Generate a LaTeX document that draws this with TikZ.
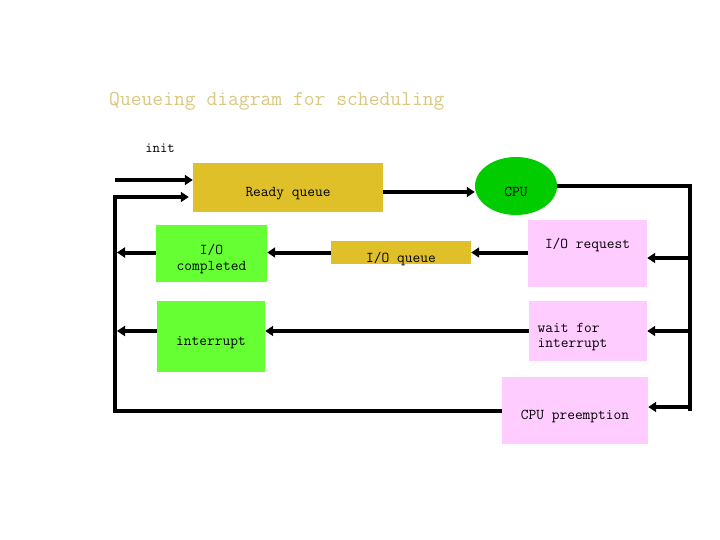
\documentclass[tikz,border=0pt]{standalone}
\usepackage{fontspec}
\usetikzlibrary{arrows.meta,shapes.geometric}
\definecolor{gold}{RGB}{224,192,40}
\definecolor{lgreen}{RGB}{102,255,51}
\definecolor{cpugreen}{RGB}{0,204,0}
\definecolor{pinkbox}{RGB}{255,204,255}
\definecolor{titlecol}{RGB}{218,200,130}
\tikzset{
  box/.style={draw=none,inner sep=0pt,font=\ttfamily\fontsize{15}{15.5}\selectfont,align=center},
  conn/.style={line width=4pt},
  arr/.style={line width=4pt,-{Triangle[length=8pt,width=10pt]}},
}
\begin{document}
\begin{tikzpicture}[x=1pt,y=-1pt]
\useasboundingbox (0,0) rectangle (720,540);
\fill[white] (0,0) rectangle (720,540);
% title and init
\node[font=\ttfamily\fontsize{21}{22}\selectfont,text=titlecol,anchor=west,inner sep=0pt] (title) at (109,101.5) {Queueing diagram for scheduling};
\node[font=\ttfamily\fontsize{14.3}{15}\selectfont,inner sep=0pt] (init) at (160,148) {init};
% boxes
\node[box,fill=gold,minimum width=190pt,minimum height=49pt,label={[box,yshift=-6pt]center:Ready queue}] (rq) at (288,187.5) {};
\node[box,ellipse,fill=cpugreen,minimum width=82pt,minimum height=58pt,label={[box,yshift=-5.5pt]center:CPU}] (cpu) at (516,186) {};
\node[box,fill=pinkbox,minimum width=119pt,minimum height=67pt,label={[box,yshift=9pt]center:I/O request}] (ioreq) at (587.5,253.5) {};
\node[box,fill=gold,minimum width=140pt,minimum height=23pt,label={[box,yshift=-6.5pt]center:I/O queue}] (ioq) at (401,252.5) {};
\node[box,fill=lgreen,minimum width=111pt,minimum height=57pt,label={[box,yshift=-5.5pt]center:I/O\\completed}] (iocomp) at (211.5,253.5) {};
\node[box,fill=lgreen,minimum width=108pt,minimum height=71pt,label={[box,yshift=-6pt]center:interrupt}] (intr) at (211,336.5) {};
\node[box,fill=pinkbox,minimum width=118pt,minimum height=60pt] (wait) at (588,331) {};
\node[box,align=left] (waittxt) at (572.5,337) {wait for\\interrupt};
\node[box,fill=pinkbox,minimum width=146pt,minimum height=67pt,label={[box,yshift=-6pt]center:CPU preemption}] (cpupre) at (575,410.5) {};
% bus coordinates
\coordinate (initstart) at (115,180);
\coordinate (ltop) at (115,197);
\coordinate (lbot) at (115,410.5);
\coordinate (rtop) at (690,186);
\coordinate (rbot) at (690,410.5);
\coordinate (rqout) at ([yshift=-4.5pt]rq.east);
\coordinate (ioreqin) at ([yshift=-4.5pt]ioreq.east);
\coordinate (cpuprein) at ([yshift=3.5pt]cpupre.east);
% connectors
\draw[arr] (initstart) -- (rq.west |- initstart);
\draw[arr] (cpupre.west) -- (lbot) -- (ltop) -- ([xshift=-4pt]rq.west |- ltop);
\draw[arr] (rqout) -- (cpu.west |- rqout);
\draw[conn,line join=miter] (cpu.east |- rtop) -- (rtop) -- (rbot);
\draw[arr] (ioreqin -| rtop) -- (ioreqin);
\draw[arr] (wait.east -| rtop) -- (wait.east);
\draw[arr] (cpuprein -| rtop) -- (cpuprein);
\draw[arr] (ioreq.west |- ioq.east) -- (ioq.east);
\draw[arr] (ioq.west) -- (iocomp.east |- ioq.west);
\draw[arr] (iocomp.west |- ioq.west) -- ([xshift=2pt]ltop |- ioq.west);
\draw[arr] (wait.west) -- (intr.east |- wait.west);
\draw[arr] (intr.west |- wait.west) -- ([xshift=2pt]ltop |- wait.west);
\end{tikzpicture}
\end{document}
